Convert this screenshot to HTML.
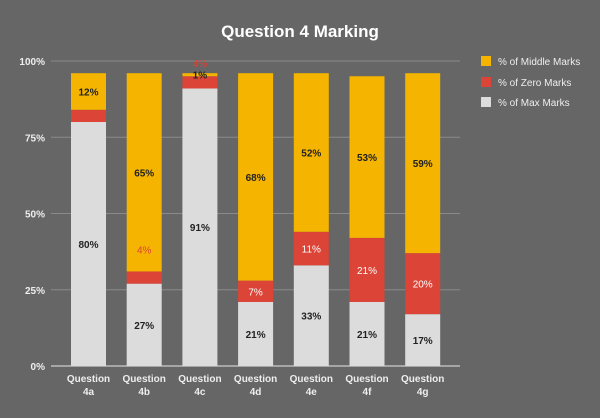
<!DOCTYPE html>
<html><head><meta charset="utf-8"><style>
body{margin:0;background:#666;}
svg{display:block;font-family:"Liberation Sans",sans-serif;}
</style></head><body>
<svg id="chart" width="600" height="418">
<rect width="600" height="418" fill="#666666"/>
<text x="300" y="37" text-anchor="middle" font-size="17" font-weight="bold" fill="#fff">Question 4 Marking</text>
<g id="grid"></g><g id="bars"></g><g id="labels"></g>
<g>
 <rect x="481" y="56" width="10" height="10" fill="#f4b400"/>
 <text x="498" y="65" font-size="10" fill="#eee">% of Middle Marks</text>
 <rect x="481" y="77" width="10" height="10" fill="#db4437"/>
 <text x="498" y="86" font-size="10" fill="#eee">% of Zero Marks</text>
 <rect x="481" y="97" width="10" height="10" fill="#dcdcdc"/>
 <text x="498" y="106" font-size="10" fill="#eee">% of Max Marks</text>
</g>
</svg>
<script>
const categories=["4a","4b","4c","4d","4e","4f","4g"];
const maxMarks=[80,27,91,21,33,21,17];
const zeroMarks=[4,4,4,7,11,21,20];
const middleMarks=[12,65,1,68,52,53,59];
const ticks=[0,25,50,75,100];
const NS="http://www.w3.org/2000/svg";
const y0=366,y100=61,left=51,right=460;
const y=v=>y0-(v/100)*(y0-y100);
const pitch=55.7,bw=35,x0=71;
const x=i=>x0+i*pitch;
function mk(tag,attrs,parent){const e=document.createElementNS(NS,tag);for(const k in attrs)e.setAttribute(k,attrs[k]);parent.appendChild(e);return e;}
const grid=document.getElementById('grid'),bars=document.getElementById('bars'),labels=document.getElementById('labels');
ticks.forEach(t=>{
 const l=mk('line',{x1:left,x2:right,y1:y(t),y2:y(t),stroke:t===0?'#bbb':'#8a8a8a','stroke-width':t===0?1.5:1},grid);
 
 
 const tx=mk('text',{x:45,y:y(t)+4,'text-anchor':'end','font-size':10,'font-weight':'bold',fill:'#eee'},grid);
 tx.textContent=t+'%';
 
 
});
categories.forEach((c,i)=>{
 const segs=[[maxMarks[i],'#dcdcdc','max'],[zeroMarks[i],'#db4437','zero'],[middleMarks[i],'#f4b400','middle']];
 let base=0;
 segs.forEach(([v,col,nm])=>{
  const r=mk('rect',{x:x(i),y:y(base+v),width:bw,height:y(base)-y(base+v),fill:col},bars);
  
  
  let ly=(y(base)+y(base+v))/2+4, fill=nm==='zero'?'#fff':'#222';
  if(nm==='zero'&&v<6){ly=(c==='4c')?y(base+v+middleMarks[i])-6:y(base+v)-4;fill='#db4437';if(c==='4b')ly=y(base+v)-18;}
  if(!(nm==='zero'&&c==='4a')){
   const t=mk('text',{x:x(i)+bw/2,y:ly,'text-anchor':'middle','font-size':10,'font-weight':nm==='zero'?'normal':'bold',fill:fill},labels);
   t.textContent=v+'%';
   
   
  }
  base+=v;
 });
 const a=mk('text',{x:x(i)+bw/2,y:382,'text-anchor':'middle','font-size':10,'font-weight':'bold',fill:'#eee'},labels);
 a.textContent='Question';
 
 
 const b=mk('text',{x:x(i)+bw/2,y:395,'text-anchor':'middle','font-size':10,'font-weight':'bold',fill:'#eee'},labels);
 b.textContent=c;
 
 
});
</script>
</body></html>
